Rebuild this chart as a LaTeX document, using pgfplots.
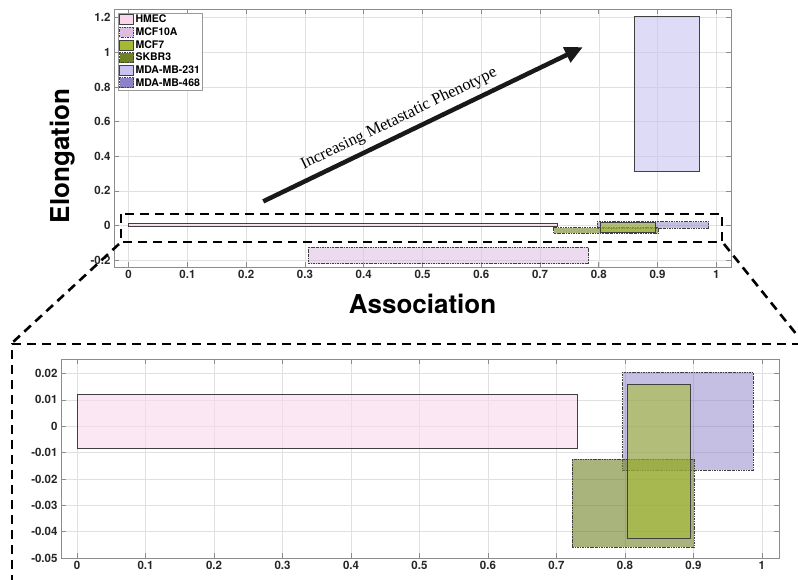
\documentclass[border=0pt]{standalone}
\usepackage{fontspec}
\setmainfont{TeX Gyre Heros}
\newfontfamily\timesfont{Liberation Serif}
\usepackage{pgfplots}
\pgfplotsset{compat=1.18}
\usetikzlibrary{arrows.meta}

\definecolor{chmec}{RGB}{249,214,236}
\definecolor{cmcfa}{RGB}{220,190,225}
\definecolor{cmcfs}{RGB}{165,186,50}
\definecolor{cskbr}{RGB}{110,130,35}
\definecolor{cmdaa}{RGB}{200,195,240}
\definecolor{cmdab}{RGB}{140,130,200}
\definecolor{edgec}{RGB}{64,64,64}

\tikzset{ddot/.style={dash pattern=on 2.2pt off 1pt on 0.6pt off 1pt}}
\pgfplotsset{
  shmec/.style={draw=edgec, line width=0.8pt, fill=chmec, fill opacity=0.6},
  smcfa/.style={draw=edgec, line width=0.8pt, ddot, fill=cmcfa, fill opacity=0.55},
  smcfs/.style={draw=edgec, line width=0.8pt, fill=cmcfs, fill opacity=0.6},
  sskbr/.style={draw=edgec, line width=0.8pt, ddot, fill=cskbr, fill opacity=0.6},
  smdaa/.style={draw=edgec, line width=0.8pt, fill=cmdaa, fill opacity=0.6},
  smdab/.style={draw=edgec, line width=0.8pt, ddot, fill=cmdab, fill opacity=0.5},
  mlab/.style={
    scale only axis, anchor=south west,
    tick align=inside, tick pos=both, major tick length=5pt,
    grid=major, grid style={black!12, line width=0.5pt},
    axis line style={black!45, line width=0.6pt},
    every tick/.style={black!45, line width=0.6pt},
    tick label style={font=\bfseries\fontsize{11.5}{12}\selectfont, text=black!85},
    /pgf/number format/assume math mode=true,
    scaled ticks=false,
    legend image code/.code={\draw[##1, fill opacity=1] (0pt,-4.8pt) rectangle (14pt,5.2pt);},
    xtick={0,0.1,0.2,0.3,0.4,0.5,0.6,0.7,0.8,0.9,1},
    xticklabels={0,0.1,0.2,0.3,0.4,0.5,0.6,0.7,0.8,0.9,1},
  },
}

\begin{document}
\begin{tikzpicture}[x=1pt,y=1pt]
\useasboundingbox (0,0) rectangle (798,579);
% ---------------- top axis ----------------
\begin{axis}[mlab, at={(114pt,312pt)}, width=617pt, height=258pt,
  xmin=-0.025, xmax=1.025, ymin=-0.24, ymax=1.25,
  ytick={-0.2,0,0.2,0.4,0.6,0.8,1,1.2},
  yticklabels={-0.2,0,0.2,0.4,0.6,0.8,1,1.2},
  xlabel={Association}, ylabel={Elongation},
  label style={font=\bfseries\fontsize{26}{28}\selectfont},
  xlabel style={at={(axis description cs:0.5,-0.143)}, anchor=center},
  ylabel style={at={(axis description cs:-0.084,0.43)}, anchor=center},
  legend style={at={(0.0065,0.986)}, anchor=north west, draw=black!40, fill=white,
    font=\bfseries\fontsize{10.5}{11}\selectfont, inner xsep=1pt, inner ysep=0.8pt,
    row sep=0.4pt, nodes={inner sep=1.5pt}, cells={anchor=west}},
  legend cell align=left,
]
\addlegendimage{shmec}\addlegendentry{HMEC}
\addlegendimage{smcfa}\addlegendentry{MCF10A}
\addlegendimage{smcfs}\addlegendentry{MCF7}
\addlegendimage{sskbr}\addlegendentry{SKBR3}
\addlegendimage{smdaa}\addlegendentry{MDA-MB-231}
\addlegendimage{smdab}\addlegendentry{MDA-MB-468}
% HMEC
\addplot[shmec, forget plot] coordinates {(0,-0.0083) (0.730,-0.0083) (0.730,0.0121) (0,0.0121)} -- cycle;
% MCF10A
\addplot[smcfa, forget plot] coordinates {(0.305,-0.22) (0.783,-0.22) (0.783,-0.127) (0.305,-0.127)} -- cycle;
% MDA-MB-231
\addplot[smdaa, forget plot] coordinates {(0.86,0.312) (0.971,0.312) (0.971,1.209) (0.86,1.209)} -- cycle;
% MDA-MB-468
\addplot[smdab, forget plot] coordinates {(0.797,-0.0167) (0.987,-0.0167) (0.987,0.0205) (0.797,0.0205)} -- cycle;
% SKBR3
\addplot[sskbr, forget plot] coordinates {(0.723,-0.0458) (0.901,-0.0458) (0.901,-0.0125) (0.723,-0.0125)} -- cycle;
% MCF7
\addplot[smcfs, forget plot] coordinates {(0.803,-0.0424) (0.896,-0.0424) (0.896,0.0159) (0.803,0.0159)} -- cycle;
% arrow + text
\draw[-{Triangle[length=18pt,width=16pt]}, line width=4.5pt, black!90] (axis cs:0.229,0.139) -- (axis cs:0.773,1.03);
\node[rotate=25.8, font=\timesfont\fontsize{16.5}{17}\selectfont] at (axis cs:0.46,0.615) {Increasing Metastatic Phenotype};
\end{axis}
% ---------------- bottom axis ----------------
\begin{axis}[mlab, at={(61pt,21pt)}, width=718pt, height=199pt,
  xmin=-0.0235, xmax=1.025, ymin=-0.05, ymax=0.0255,
  ytick={-0.05,-0.04,-0.03,-0.02,-0.01,0,0.01,0.02},
  yticklabels={-0.05,-0.04,-0.03,-0.02,-0.01,0,0.01,0.02},
]
\addplot[shmec, forget plot] coordinates {(0,-0.0083) (0.730,-0.0083) (0.730,0.0121) (0,0.0121)} -- cycle;
\addplot[smcfa, forget plot] coordinates {(0.305,-0.22) (0.783,-0.22) (0.783,-0.127) (0.305,-0.127)} -- cycle;
\addplot[smdaa, forget plot] coordinates {(0.86,0.312) (0.971,0.312) (0.971,1.209) (0.86,1.209)} -- cycle;
\addplot[smdab, forget plot] coordinates {(0.797,-0.0167) (0.987,-0.0167) (0.987,0.0205) (0.797,0.0205)} -- cycle;
\addplot[sskbr, forget plot] coordinates {(0.723,-0.0458) (0.901,-0.0458) (0.901,-0.0125) (0.723,-0.0125)} -- cycle;
\addplot[smcfs, forget plot] coordinates {(0.803,-0.0424) (0.896,-0.0424) (0.896,0.0159) (0.803,0.0159)} -- cycle;
\end{axis}
% ---------------- zoom annotation ----------------
\begin{scope}[line width=2.6pt, dash pattern=on 9pt off 6pt, black]
\draw (121,365) rectangle (722,337);
\draw (119,335) -- (12,236);
\draw (724,335) -- (797,244);
\draw (12,-5) -- (12,235) -- (800,235);
\end{scope}
\end{tikzpicture}
\end{document}
